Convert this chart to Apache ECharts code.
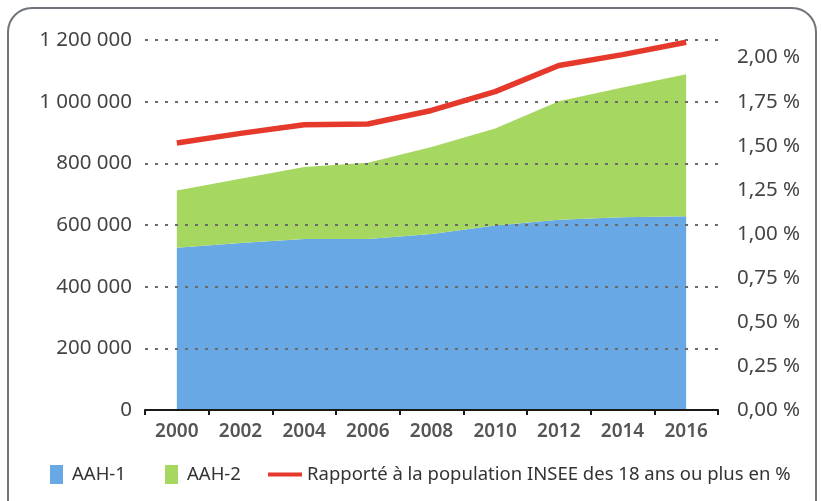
<!DOCTYPE html>
<html>
<head>
<meta charset="utf-8">
<script src="https://cdn.jsdelivr.net/npm/echarts@6/dist/echarts.min.js"></script>
<style>
html,body{margin:0;padding:0;background:#fff;}
#chart{width:821px;height:501px;}
</style>
</head>
<body>
<div id="chart"></div>
<script>
var years = ['2000','2002','2004','2006','2008','2010','2012','2014','2016'];
var aah1 = [526000, 542000, 555000, 555000, 571000, 598000, 617000, 625000, 628000];
var aah2 = [186000, 208000, 233000, 247000, 282000, 315000, 384000, 421000, 461000];
var ratio = [1.515, 1.57, 1.619, 1.623, 1.70, 1.807, 1.955, 2.017, 2.087];
var leftTicks = [0, 200000, 400000, 600000, 800000, 1000000, 1200000];
var rightTicks = [0, 0.25, 0.5, 0.75, 1, 1.25, 1.5, 1.75, 2];
var seriesNames = ['AAH-1', 'AAH-2', 'Rapporté à la population INSEE des 18 ans ou plus en %'];

var FONT = '"Noto Sans", "Open Sans", sans-serif';
var chart = echarts.init(document.getElementById('chart'), null, {renderer: 'canvas'});

function fmtThousands(v) {
  return String(v).replace(/\B(?=(\d{3})+(?!\d))/g, ' ');
}
function fmtPct(v) {
  var ok = rightTicks.some(function (t) { return Math.abs(t - v) < 1e-9; });
  if (!ok) return '';
  return v.toFixed(2).replace('.', ',') + ' %';
}

var legendText = {fontFamily: FONT, fontSize: 18.5, color: '#333', lineHeight: 19};

var option = {
  animation: false,
  backgroundColor: '#fff',
  graphic: [{
    type: 'rect',
    z: -10,
    shape: {x: 8, y: 8, width: 808, height: 530, r: 24},
    style: {fill: 'none', stroke: '#70747b', lineWidth: 2}
  }],
  grid: {left: 145, right: 103, top: 40, bottom: 91, containLabel: false},
  legend: [
    {data: [{name: seriesNames[0], icon: 'rect'}], left: 45, top: 460, itemWidth: 13, itemHeight: 19,
     textStyle: Object.assign({padding: [0, 0, 0, 4]}, legendText)},
    {data: [{name: seriesNames[1], icon: 'rect'}], left: 160, top: 460, itemWidth: 13, itemHeight: 19,
     textStyle: Object.assign({padding: [0, 0, 0, 4]}, legendText)},
    {data: [{name: seriesNames[2], icon: 'rect'}], left: 263, top: 460, itemWidth: 34, itemHeight: 4,
     textStyle: Object.assign({padding: [0, 0, 0, 0]}, legendText)}
  ],
  xAxis: {
    type: 'category',
    data: years,
    boundaryGap: true,
    z: 4,
    axisLine: {show: true, lineStyle: {color: '#1a1a1a', width: 2}},
    axisTick: {show: true, length: 5, lineStyle: {color: '#1a1a1a', width: 2}},
    axisLabel: {fontFamily: FONT, fontSize: 19, fontWeight: 600, color: '#555', margin: 12}
  },
  yAxis: [{
    type: 'value',
    min: leftTicks[0],
    max: leftTicks[leftTicks.length - 1],
    interval: 200000,
    z: 3,
    axisLine: {show: false},
    axisTick: {show: false},
    axisLabel: {fontFamily: FONT, fontSize: 20.5, color: '#444', margin: 13, formatter: fmtThousands},
    splitLine: {show: true, lineStyle: {color: '#6a6a6a', width: 2, type: [3, 7]}}
  }, {
    type: 'value',
    min: 0,
    max: 2.1,
    interval: 0.25,
    position: 'right',
    axisLine: {show: false},
    axisTick: {show: false},
    splitLine: {show: false},
    axisLabel: {fontFamily: FONT, fontSize: 20.5, color: '#444', margin: 19, formatter: fmtPct}
  }],
  series: [{
    name: seriesNames[0],
    type: 'line',
    stack: 'total',
    data: aah1,
    symbol: 'none',
    itemStyle: {color: '#68a8e4'},
    lineStyle: {width: 0},
    areaStyle: {color: '#68a8e4', opacity: 1},
    z: 1
  }, {
    name: seriesNames[1],
    type: 'line',
    stack: 'total',
    data: aah2,
    symbol: 'none',
    itemStyle: {color: '#a6d760'},
    lineStyle: {width: 0},
    areaStyle: {color: '#a6d760', opacity: 1},
    z: 1
  }, {
    name: seriesNames[2],
    type: 'line',
    yAxisIndex: 1,
    data: ratio,
    symbol: 'none',
    itemStyle: {color: '#e5392c'},
    lineStyle: {width: 5.5, color: '#e5392c'},
    z: 5
  }]
};
chart.setOption(option);
</script>
</body>
</html>
